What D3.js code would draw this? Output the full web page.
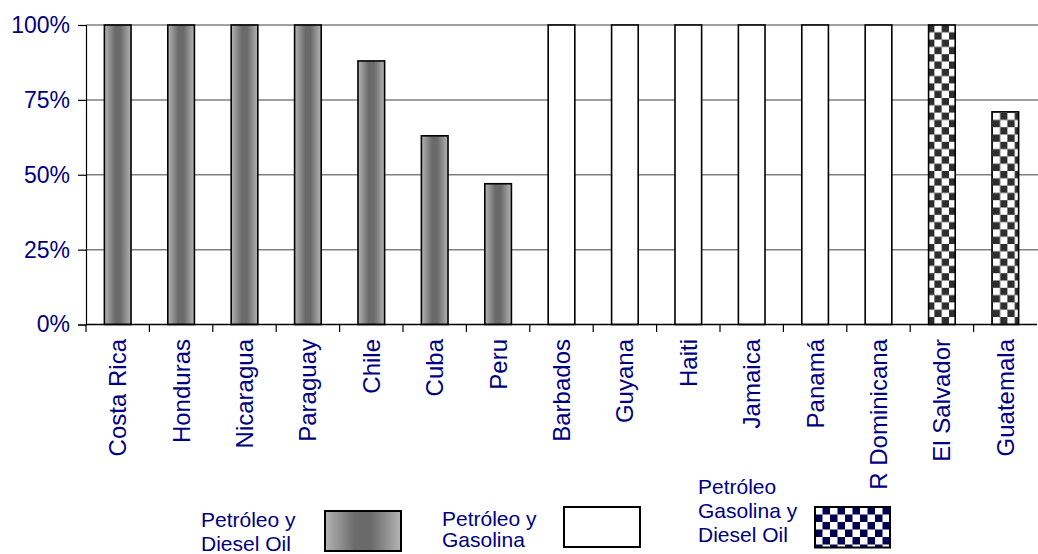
<!DOCTYPE html>
<html>
<head>
<meta charset="utf-8">
<script src="https://cdn.jsdelivr.net/npm/d3@7"></script>
<style>
  html, body { margin: 0; padding: 0; background: #fff; }
  svg { display: block; }
  svg text { font-family: "Liberation Sans", Arimo, Arial, sans-serif; }
</style>
</head>
<body>
<svg id="chart" width="1038" height="554"></svg>
<script>
// Share of each fuel mix by country
const countries = ["Costa Rica", "Honduras", "Nicaragua", "Paraguay", "Chile", "Cuba", "Peru",
  "Barbados", "Guyana", "Haiti", "Jamaica", "Panamá", "R Dominicana", "El Salvador", "Guatemala"];
const shares = [100, 100, 100, 100, 88, 63, 47, 100, 100, 100, 100, 100, 100, 100, 71];
// fuel group of each country: 0 = Petróleo y Diesel Oil, 1 = Petróleo y Gasolina, 2 = Petróleo, Gasolina y Diesel Oil
const groups = [0, 0, 0, 0, 0, 0, 0, 1, 1, 1, 1, 1, 1, 2, 2];
const yTicks = [0, 25, 50, 75, 100];
const legendLabels = [
  ["Petróleo y", "Diesel Oil"],
  ["Petróleo y", "Gasolina"],
  ["Petróleo", "Gasolina y", "Diesel Oil"]
];

(function () {
const svg = d3.select("#chart");
const navy = "#000080";
const font = "'Liberation Sans', Arimo, Arial, sans-serif";
const plotLeft = 86, plotRight = 1037, plotTop = 25, plotBottom = 324.5;

const x = d3.scaleBand().domain(countries).range([plotLeft, plotRight]).paddingInner(0.58).paddingOuter(0.29);
const y = d3.scaleLinear().domain([0, 100]).range([plotBottom, plotTop]);

// fills
const defs = svg.append("defs");
const grad = defs.append("linearGradient").attr("id", "cyl").attr("x1", "0%").attr("x2", "100%");
[["0%", "#b4b4b4"], ["40%", "#6a6a6a"], ["60%", "#6a6a6a"], ["100%", "#b4b4b4"]]
  .forEach(([o, c]) => grad.append("stop").attr("offset", o).attr("stop-color", c));

function checker(id, size, dark, ox, oy) {
  const p = defs.append("pattern").attr("id", id).attr("patternUnits", "userSpaceOnUse")
    .attr("width", size * 2).attr("height", size * 2).attr("x", ox).attr("y", oy);
  p.append("rect").attr("width", size * 2).attr("height", size * 2).attr("fill", "#fff");
  p.append("rect").attr("x", size).attr("width", size).attr("height", size).attr("fill", dark);
  p.append("rect").attr("y", size).attr("width", size).attr("height", size).attr("fill", dark);
}
checker("chk", 7.3, "#2e2e2e", 0, 25);
checker("chkLegend", 7.5, "#000050", 815, 507);

const fills = ["url(#cyl)", "#ffffff", "url(#chk)"];
const legendFills = ["url(#cyl)", "#ffffff", "url(#chkLegend)"];

// gridlines
svg.append("g").selectAll("line").data(yTicks.filter(d => d > 0)).join("line")
  .attr("x1", plotLeft).attr("x2", 1038)
  .attr("y1", d => y(d)).attr("y2", d => y(d))
  .attr("stroke", "#808080").attr("stroke-width", 1.5);

// bars
svg.append("g").selectAll("rect").data(countries).join("rect")
  .attr("x", d => x(d))
  .attr("y", (d, i) => y(shares[i]))
  .attr("width", x.bandwidth())
  .attr("height", (d, i) => y(0) - y(shares[i]))
  .attr("fill", (d, i) => fills[groups[i]])
  .attr("stroke", "#000").attr("stroke-width", 1.6);

// y axis
const yAxis = svg.append("g").attr("transform", `translate(${plotLeft},0)`)
  .call(d3.axisLeft(y).tickValues(yTicks).tickFormat(d => d + "%").tickSize(8).tickPadding(8));
yAxis.attr("font-family", font);
yAxis.select(".domain").attr("stroke", "#000").attr("stroke-width", 1.2);
yAxis.selectAll(".tick line").attr("stroke", "#000").attr("stroke-width", 1.2);
yAxis.selectAll("text").attr("fill", navy).attr("font-size", 23).attr("font-family", font);

// x axis baseline and boundary ticks
svg.append("line").attr("x1", plotLeft).attr("x2", plotRight).attr("y1", plotBottom).attr("y2", plotBottom)
  .attr("stroke", "#000").attr("stroke-width", 1.5);
const step = x.step();
svg.append("g").selectAll("line").data(countries).join("line")
  .attr("x1", d => x(d) - x.paddingOuter() * step).attr("x2", d => x(d) - x.paddingOuter() * step)
  .attr("y1", plotBottom).attr("y2", plotBottom + 7.5)
  .attr("stroke", "#000").attr("stroke-width", 1.2);

// category labels
svg.append("g").selectAll("text").data(countries).join("text")
  .attr("transform", d => `translate(${x(d) + x.bandwidth() / 2 + 8.5},339) rotate(-90)`)
  .attr("text-anchor", "end")
  .attr("font-family", font)
  .attr("fill", navy).attr("font-size", 24)
  .text(d => d);

// legend
const legendLayout = [
  { tx: 201, ty: 527, dy: 24, box: [325, 511, 76, 40] },
  { tx: 442, ty: 525.5, dy: 21.5, box: [564, 507, 76, 40] },
  { tx: 698, ty: 494, dy: 24, box: [815, 507, 75, 40.5] }
];
legendLabels.forEach((lines, i) => {
  const L = legendLayout[i];
  const g = svg.append("g");
  g.selectAll("text").data(lines).join("text")
    .attr("x", L.tx).attr("y", (d, k) => L.ty + k * L.dy)
    .attr("font-family", font)
    .attr("fill", navy).attr("font-size", 21).text(d => d);
  g.append("rect").attr("x", L.box[0]).attr("y", L.box[1])
    .attr("width", L.box[2]).attr("height", L.box[3])
    .attr("fill", legendFills[i]).attr("stroke", "#000").attr("stroke-width", 2);
});
})();
</script>
</body>
</html>
